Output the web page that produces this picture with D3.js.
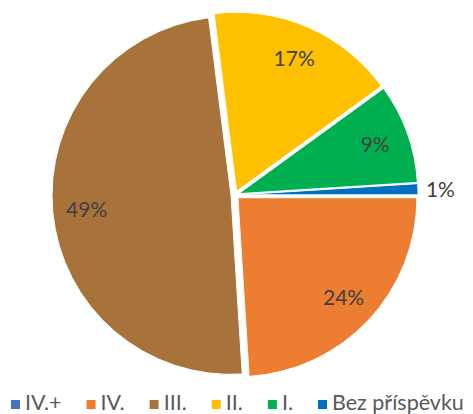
<!DOCTYPE html>
<html lang="cs">
<head>
<meta charset="UTF-8">
<title>Pie</title>
<style>
  *{margin:0;padding:0}
  body{background:#fff;width:473px;height:414px;overflow:hidden}
  svg{display:block;font-family:Lato,'Open Sans',sans-serif}
</style>
<script src="https://d3js.org/d3.v7.min.js"></script>
</head>
<body>
<div id="chart"></div>
<script>
  /* ---------- DATA ---------- */
  const categories = ["IV.+", "IV.", "III.", "II.", "I.", "Bez příspěvku"];
  const values     = [0, 24, 49, 17, 9, 1];
  const colors     = ["#4472C4", "#ED7D31", "#A8733B", "#FFC000", "#00B050", "#0070C0"];

  /* ---------- LAYOUT ---------- */
  const W = 473, H = 414;
  const cx = 235, cy = 195, R = 179, explode = 4;

  const svg = d3.select('#chart').append('svg').attr('width', W).attr('height', H);

  const data = categories.map((c, i) => ({name: c, value: values[i], color: colors[i]}));
  const total = d3.sum(values);

  const pie = d3.pie().sort(null).value(d => d.value)
                .startAngle(Math.PI / 2).endAngle(Math.PI / 2 + 2 * Math.PI);
  const arc = d3.arc().innerRadius(0).outerRadius(R);
  const arcs = pie(data).filter(d => d.data.value > 0);

  const mid = d => (d.startAngle + d.endAngle) / 2;
  const off = (d, r) => [Math.sin(mid(d)) * r, -Math.cos(mid(d)) * r];

  const g = svg.append('g').attr('transform', `translate(${cx},${cy})`);

  /* ---- slices ---- */
  g.selectAll('path').data(arcs).enter().append('path')
    .attr('d', arc)
    .attr('transform', d => `translate(${off(d, explode)})`)
    .attr('fill', d => d.data.color)
    .attr('stroke', '#fff').attr('stroke-width', 1);

  /* ---- labels ---- */
  g.selectAll('text.lbl').data(arcs).enter().append('text')
    .attr('class', 'lbl')
    .each(function(d){
      const small = (d.endAngle - d.startAngle) < 0.1;
      const p = off(d, small ? R + 12 : 149);
      d3.select(this)
        .attr('x', p[0]).attr('y', p[1])
        .attr('text-anchor', small ? 'start' : 'middle');
    })
    .attr('dy', '0.36em')
    .attr('font-size', 21)
    .attr('fill', '#404040')
    .text(d => Math.round(d.data.value / total * 100) + '%');

  /* ---- legend ---- */
  const leg = svg.append('g').attr('transform', 'translate(0,410)');
  let x = 11;
  data.forEach(d => {
    leg.append('rect').attr('x', x).attr('y', -10).attr('width', 9).attr('height', 9).attr('fill', d.color);
    const t = leg.append('text').attr('x', x + 14).attr('y', 0)
      .attr('font-size', 21.5).attr('fill', '#595959').text(d.name);
    x += 14 + t.node().getComputedTextLength() + 25;
  });
</script>
</body>
</html>
